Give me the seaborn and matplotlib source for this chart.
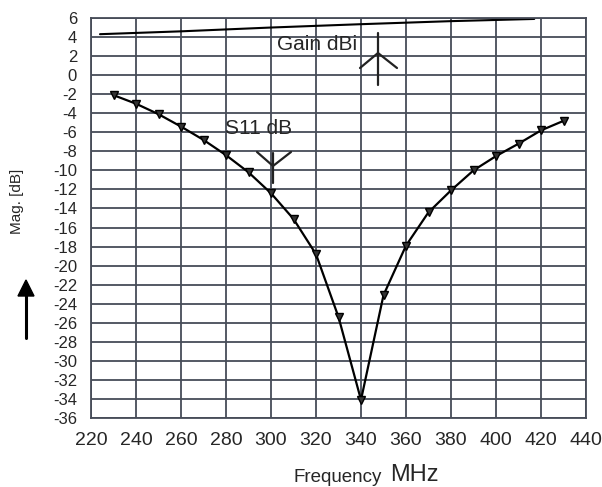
import matplotlib
matplotlib.use("Agg")
import matplotlib.pyplot as plt
import seaborn as sns
import pandas as pd
from matplotlib.lines import Line2D

# ---- data ----
s11_freq = [230, 240, 250, 260, 270, 280, 290, 300, 310, 320, 330, 340, 350,
            360, 370, 380, 390, 400, 410, 420, 430]
s11_db = [-2.1, -3.0, -4.1, -5.4, -6.8, -8.4, -10.2, -12.4, -15.1, -18.8, -25.4,
          -34.1, -23.1, -17.9, -14.4, -12.1, -10.0, -8.5, -7.2, -5.8, -4.8]
gain_freq = [224, 260, 300, 340, 380, 417]
gain_dbi = [4.3, 4.6, 5.0, 5.35, 5.67, 5.9]
x_ticks = [220, 240, 260, 280, 300, 320, 340, 360, 380, 400, 420, 440]
y_ticks = list(range(-36, 7, 2))

sns.set_style("white")
plt.rcParams['font.family'] = ['Liberation Sans', 'DejaVu Sans']

W, H = 602, 487
fig = plt.figure(figsize=(W / 100, H / 100), dpi=100)
ax = fig.add_axes([91 / W, 1 - 418 / H, (586 - 91) / W, (418 - 18) / H])

gridc = '#474c58'
txtc = '#262626'
s11 = pd.DataFrame({'freq': s11_freq, 'db': s11_db})
gain = pd.DataFrame({'freq': gain_freq, 'db': gain_dbi})

sns.lineplot(data=gain, x='freq', y='db', ax=ax, color='black', lw=1.5)
sns.lineplot(data=s11, x='freq', y='db', ax=ax, color='black', lw=1.6,
             marker='v', markersize=5.5, markerfacecolor='#333333',
             markeredgecolor='black', markeredgewidth=1.0)

ax.set_xlim(220, 440)
ax.set_ylim(-36, 6)
ax.set_xticks(x_ticks)
ax.set_xticklabels([str(v) for v in x_ticks], fontsize=14, color=txtc)
ax.set_yticks(y_ticks)
ax.set_yticklabels([str(v) for v in y_ticks], fontsize=12, color=txtc)
ax.set_xticks(list(range(230, 440, 20)), minor=True)
ax.set_yticks(list(range(-35, 6, 2)), minor=True)
ax.tick_params(axis='both', which='major', direction='out', length=8, width=1.2,
               color=gridc, pad=2)
ax.tick_params(axis='both', which='minor', direction='out', length=4, width=1.2,
               color=gridc)
ax.grid(True, which='major', color=gridc, lw=1.3)
for sp in ax.spines.values():
    sp.set_color(gridc)
    sp.set_linewidth(1.3)
ax.set_xlabel('')
ax.set_ylabel('')

def fx(px):
    return px / W

def fy(py):
    return 1 - py / H

# annotations
fig.text(fx(259), fy(129), 'S11 dB', fontsize=15, ha='center', va='center', color=txtc)
fig.text(fx(317), fy(45), 'Gain dBi', fontsize=15, ha='center', va='center', color=txtc)

def seg(pts, lw=1.6, color='#222222'):
    xs = [fx(p[0]) for p in pts]
    ys = [fy(p[1]) for p in pts]
    fig.add_artist(Line2D(xs, ys, transform=fig.transFigure, color=color, lw=lw))

# S11 antenna-like marker
seg([(273, 153), (273, 183)])
seg([(257, 152), (273, 166), (291, 152)])
# Gain marker
seg([(378, 33), (378, 85)])
seg([(360, 68), (378, 53), (397, 68)])

# axis labels
fig.text(fx(17), fy(201), 'Mag. [dB]', fontsize=11, rotation=90,
         ha='center', va='center', color=txtc)
fig.add_artist(plt.Line2D([fx(26), fx(26)], [fy(338), fy(292)],
                          transform=fig.transFigure, color='black', lw=2.2))
fig.patches.append(matplotlib.patches.FancyArrow(
    fx(26), fy(300), 0, (fy(280) - fy(300)), width=0.001, head_width=fx(16),
    head_length=(fy(280) - fy(296)), length_includes_head=True,
    transform=fig.transFigure, color='black'))
fig.text(fx(338), fy(477), 'Frequency', fontsize=13.5, ha='center', va='center',
         color=txtc)
fig.text(fx(414), fy(475), 'MHz', fontsize=17, ha='center', va='center',
         color=txtc)

fig.savefig('out.png', dpi=100)
